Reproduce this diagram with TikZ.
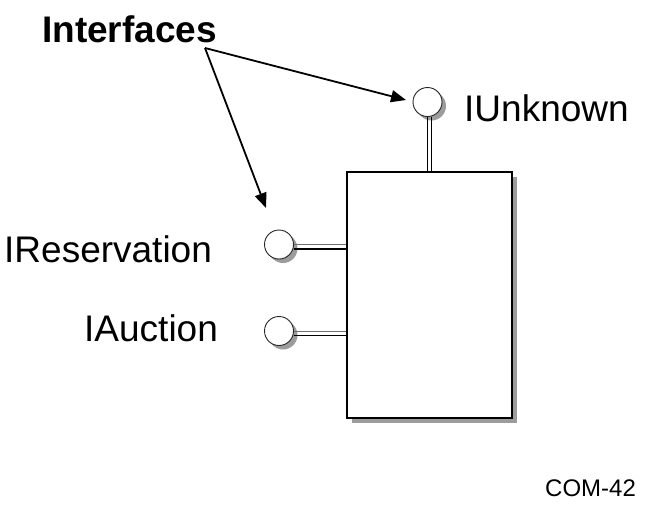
\documentclass[tikz,border=0pt]{standalone}
\usepackage{fontspec}
\setmainfont{Liberation Sans}
\usetikzlibrary{arrows.meta,shadows}
\definecolor{shade}{HTML}{9C9C9C}
\definecolor{stemdark}{HTML}{6E6E6E}
\begin{document}
\begin{tikzpicture}[x=1pt,y=-1pt,
  lbl/.style={anchor=base west,inner sep=0pt,font=\fontsize{37}{41}\selectfont},
  port/.style={circle,draw=black!85,line width=0.9pt,fill=white,minimum size=29pt,inner sep=0pt,
    drop shadow={shadow xshift=4pt,shadow yshift=-4pt,fill=shade,opacity=1}},
  comp/.style={rectangle,draw=black,line width=1.2pt,fill=white,minimum width=165pt,minimum height=246pt,inner sep=0pt,
    drop shadow={shadow xshift=5pt,shadow yshift=-5pt,fill=shade,opacity=1}},
  pointer/.style={line width=1.8pt,-{Triangle[length=15pt,width=12pt]}}]
\useasboundingbox (0,0) rectangle (653,507);
\node[comp] (box) at (429.5,295) {};
\node[port] (unk) at (427.5,102) {};
\node[port] (res) at (279,244.5) {};
\node[port] (auc) at (279,331) {};
\draw[shade,line width=1.2pt] ([xshift=4pt]unk.south) -- ([xshift=4pt]unk.south |- box.north);
\draw[black,line width=1pt] (unk.south) -- (unk.south |- box.north);
\draw[stemdark,line width=1pt] (res.east) -- (res.east -| box.west);
\draw[shade,line width=1.2pt] ([yshift=-4.5pt]res.east) -- ([yshift=-4.5pt]res.east -| box.west);
\draw[stemdark,line width=1pt] (auc.east) -- (auc.east -| box.west);
\draw[shade,line width=1.2pt] ([yshift=-4.5pt]auc.east) -- ([yshift=-4.5pt]auc.east -| box.west);
% labels
\node[lbl] (tunk) at (464,121) {IUnknown};
\node[lbl] (tres) at (4,262) {IReservation};
\node[lbl] (tauc) at (84,341) {IAuction};
\node[lbl,font=\fontsize{37}{41}\selectfont\bfseries] (title) at (42,42) {Interfaces};
\node[anchor=base west,inner sep=0pt,font=\fontsize{24}{28}\selectfont] (code) at (545,496) {COM-42};
% pointers
\coordinate (src) at (205,48);
\coordinate (tip1) at (406,100);
\coordinate (tip2) at (266,208);
\draw[pointer] (src) -- (tip1);
\draw[pointer] (src) -- (tip2);
\end{tikzpicture}
\end{document}
